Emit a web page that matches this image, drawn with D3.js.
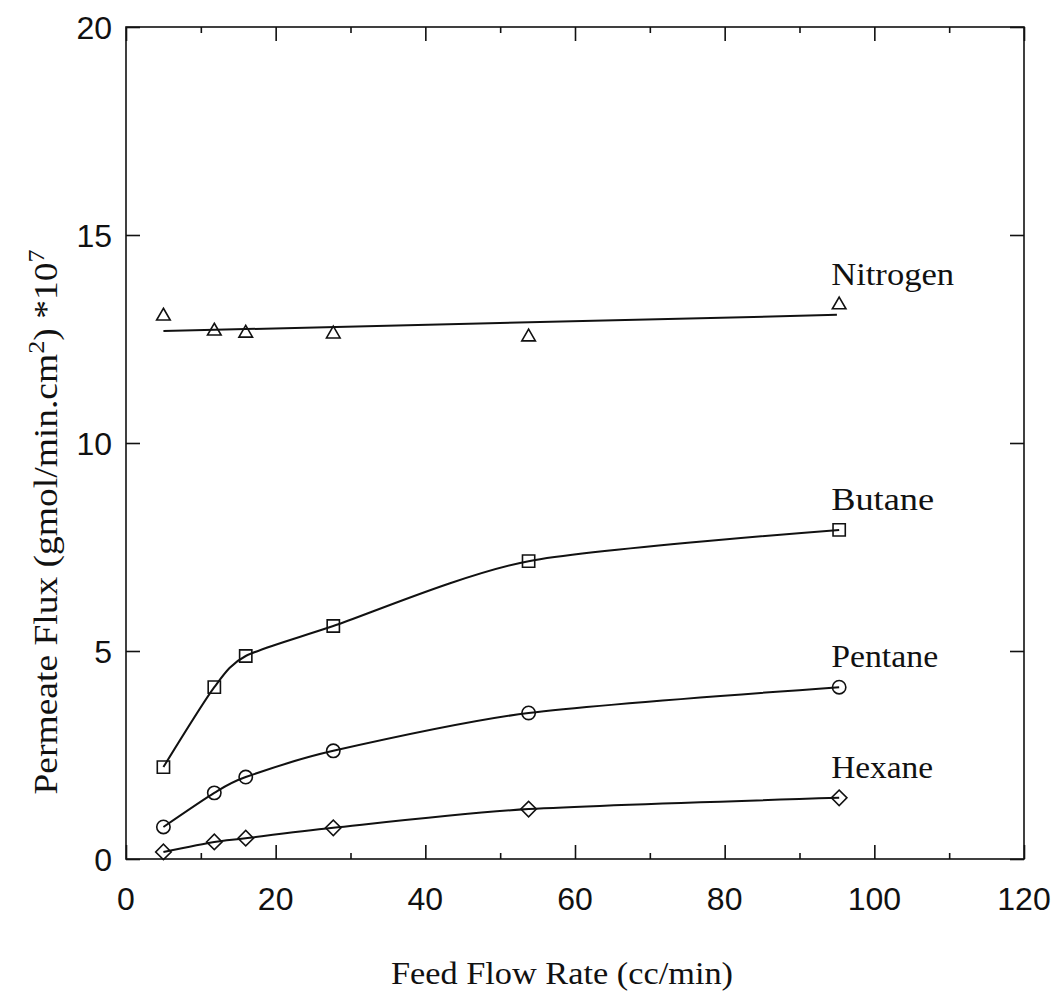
<!DOCTYPE html>
<html>
<head>
<meta charset="utf-8">
<script src="https://cdn.jsdelivr.net/npm/d3@7"></script>
<style>
  html, body { margin: 0; padding: 0; background: #fff; }
  svg { display: block; }
</style>
</head>
<body>
<svg id="chart" width="1062" height="993"></svg>
<script>
// Feed flow rates (cc/min) at which each gas was measured
const flowRates = [5.0, 11.8, 16.0, 27.7, 53.8, 95.3];

// Permeate flux, gmol/(min.cm^2) * 10^7
const nitrogen = [13.05, 12.69, 12.64, 12.62, 12.55, 13.32];
const butane   = [2.21, 4.13, 4.88, 5.60, 7.16, 7.91];
const pentane  = [0.77, 1.59, 1.97, 2.60, 3.51, 4.13];
const hexane   = [0.17, 0.41, 0.50, 0.75, 1.20, 1.47];

// Straight-line fit drawn through the nitrogen data
const nitrogenFitX = [5.0, 95.0];
const nitrogenFitY = [12.69, 13.08];

const seriesNames = ["Nitrogen", "Butane", "Pentane", "Hexane"];
const xTicks = [0, 20, 40, 60, 80, 100, 120];
const xMinorTicks = [10, 30, 50, 70, 90, 110];
const yTicks = [0, 5, 10, 15, 20];

(function draw() {
  const svg = d3.select("#chart");
  const plotLeft = 126, plotRight = 1024, plotTop = 27, plotBottom = 859;

  const x = d3.scaleLinear().domain([0, 120]).range([plotLeft, plotRight]);
  const y = d3.scaleLinear().domain([0, 20]).range([plotBottom, plotTop]);

  const ink = "#111";
  const serif = "'Liberation Serif', 'Times New Roman', serif";
  const sans = "'Liberation Sans', Arial, sans-serif";

  // frame
  svg.append("rect")
    .attr("x", plotLeft).attr("y", plotTop)
    .attr("width", plotRight - plotLeft).attr("height", plotBottom - plotTop)
    .attr("fill", "none").attr("stroke", ink).attr("stroke-width", 1.6);

  // axes with inward ticks
  const gBottom = svg.append("g").attr("transform", `translate(0,${plotBottom})`)
    .call(d3.axisTop(x).tickValues(xTicks).tickSize(14).tickFormat(""));
  const gBottomMinor = svg.append("g").attr("transform", `translate(0,${plotBottom})`)
    .call(d3.axisTop(x).tickValues(xMinorTicks).tickSize(6).tickFormat(""));
  const gTop = svg.append("g").attr("transform", `translate(0,${plotTop})`)
    .call(d3.axisBottom(x).tickValues(xTicks).tickSize(14).tickFormat(""));
  const gTopMinor = svg.append("g").attr("transform", `translate(0,${plotTop})`)
    .call(d3.axisBottom(x).tickValues(xMinorTicks).tickSize(6).tickFormat(""));
  const gLeft = svg.append("g").attr("transform", `translate(${plotLeft},0)`)
    .call(d3.axisRight(y).tickValues(yTicks).tickSize(14).tickFormat(""));
  const gRight = svg.append("g").attr("transform", `translate(${plotRight},0)`)
    .call(d3.axisLeft(y).tickValues(yTicks).tickSize(14).tickFormat(""));

  [gBottom, gBottomMinor, gTop, gTopMinor, gLeft, gRight].forEach(g => {
    g.select(".domain").remove();
    g.selectAll(".tick line").attr("stroke", ink).attr("stroke-width", 1.6);
  });

  // tick labels
  svg.append("g").selectAll("text").data(xTicks).join("text")
    .attr("x", d => x(d)).attr("y", plotBottom + 51)
    .attr("text-anchor", "middle")
    .attr("font-family", sans).attr("font-size", 32).attr("fill", ink)
    .text(d => d);

  svg.append("g").selectAll("text").data(yTicks).join("text")
    .attr("x", plotLeft - 14).attr("y", d => y(d))
    .attr("dy", "0.36em")
    .attr("text-anchor", "end")
    .attr("font-family", sans).attr("font-size", 32).attr("fill", ink)
    .text(d => d);

  // axis titles
  svg.append("text")
    .attr("x", 562).attr("y", 984)
    .attr("text-anchor", "middle")
    .attr("font-family", serif).attr("font-size", 32).attr("fill", ink)
    .attr("textLength", 342).attr("lengthAdjust", "spacingAndGlyphs")
    .text("Feed Flow Rate (cc/min)");

  const yTitle = svg.append("text")
    .attr("transform", "translate(57,522) rotate(-90)")
    .attr("text-anchor", "middle")
    .attr("font-family", serif).attr("font-size", 33).attr("fill", ink)
    .attr("textLength", 545).attr("lengthAdjust", "spacingAndGlyphs");
  yTitle.append("tspan").text("Permeate Flux (gmol/min.cm");
  yTitle.append("tspan").attr("dy", -13).attr("font-size", 23).text("2");
  yTitle.append("tspan").attr("dy", 13).text(") *10");
  yTitle.append("tspan").attr("dy", -13).attr("font-size", 23).text("7");

  // smooth curves through the measured points
  const curveLine = d3.line()
    .x(d => x(d[0])).y(d => y(d[1]))
    .curve(d3.curveCardinal.tension(0.25));
  const straight = d3.line().x(d => x(d[0])).y(d => y(d[1]));

  const zip = vals => flowRates.map((f, i) => [f, vals[i]]);

  svg.append("path")
    .attr("d", straight(nitrogenFitX.map((f, i) => [f, nitrogenFitY[i]])))
    .attr("fill", "none").attr("stroke", ink).attr("stroke-width", 2);

  [butane, pentane, hexane].forEach(vals => {
    svg.append("path")
      .attr("d", curveLine(zip(vals)))
      .attr("fill", "none").attr("stroke", ink).attr("stroke-width", 2);
  });

  // markers
  const sym = (type, size) => d3.symbol().type(type).size(size)();

  function drawMarkers(vals, type, size, rot) {
    svg.append("g").selectAll("path").data(zip(vals)).join("path")
      .attr("transform", d => `translate(${x(d[0])},${y(d[1])}) rotate(${rot})`)
      .attr("d", sym(type, size))
      .attr("fill", "none").attr("stroke", ink).attr("stroke-width", 1.6);
  }
  drawMarkers(nitrogen, d3.symbolTriangle, 80, 0);
  drawMarkers(butane, d3.symbolSquare, 150, 0);
  drawMarkers(pentane, d3.symbolCircle, 140, 0);
  drawMarkers(hexane, d3.symbolSquare, 120, 45);

  // series labels above the last point of each curve
  const lastVals = [nitrogen, butane, pentane, hexane].map(v => v[v.length - 1]);
  const labelWidths = [123, 103, 107, 102];
  svg.append("g").selectAll("text").data(seriesNames).join("text")
    .attr("x", x(flowRates[flowRates.length - 1]) - 8)
    .attr("y", (d, i) => y(lastVals[i]) - 20)
    .attr("font-family", serif).attr("font-size", 31).attr("fill", ink)
    .attr("textLength", (d, i) => labelWidths[i]).attr("lengthAdjust", "spacingAndGlyphs")
    .text(d => d);
})();
</script>
</body>
</html>
